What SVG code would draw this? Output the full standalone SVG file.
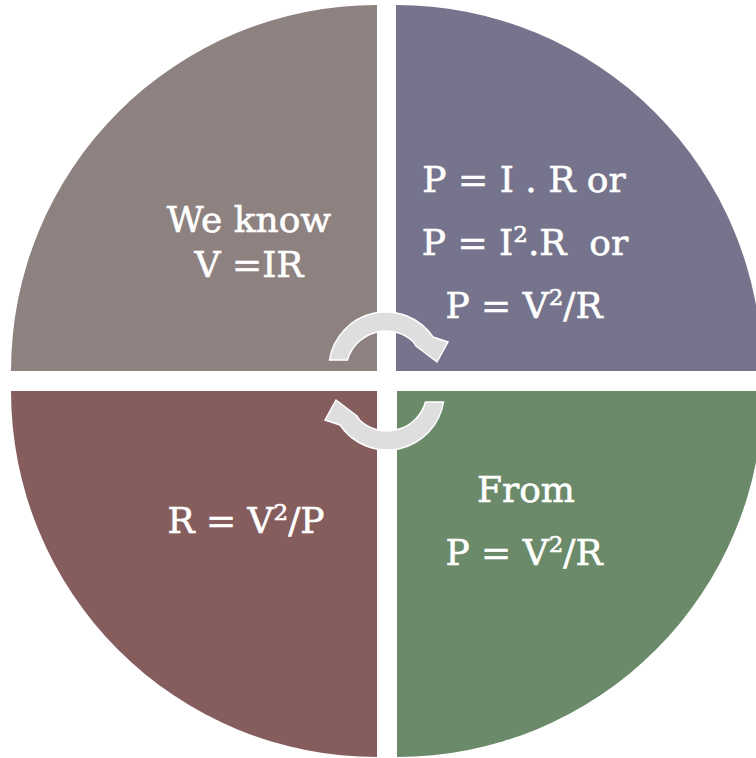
<svg xmlns="http://www.w3.org/2000/svg" width="756" height="758" viewBox="0 0 756 758">
<defs>
<style>
.t{font-family:"DejaVu Serif","Liberation Serif",serif;font-size:36px;fill:#ffffff;stroke:#ffffff;stroke-width:0.6;text-anchor:middle}
.s{font-size:23px}
.arrow{fill:#dedede;stroke:#ffffff;stroke-width:1.5;stroke-linejoin:miter}
</style>
<path id="arr" d="M329.5,360 A57,57 0 0 1 433,337 L448,342 L437,362 L416,346 L413.5,342 A40,40 0 0 0 347.5,360 Z"/>
</defs>
<rect width="756" height="758" fill="#ffffff"/>
<g id="q-top-left">
<path d="M377,371 L11,371 A366,366 0 0 1 377,5 Z" fill="#8e8280"/>
<text class="t" x="249" y="232">We know</text>
<text class="t" x="249" y="277">V =IR</text>
</g>
<g id="q-top-right">
<path d="M396,371 L396,5 A366,366 0 0 1 762,371 Z" fill="#75748c"/>
<text class="t" x="524" y="192">P = I . R or</text>
<text class="t" x="525" y="255">P = I<tspan class="s" dy="-13">2</tspan><tspan dy="13">.R&#160; or</tspan></text>
<text class="t" x="524" y="318">P = V<tspan class="s" dy="-13">2</tspan><tspan dy="13">/R</tspan></text>
</g>
<g id="q-bottom-left">
<path d="M377,391 L377,757 A366,366 0 0 1 11,391 Z" fill="#855d5d"/>
<text class="t" x="246" y="533">R = V<tspan class="s" dy="-13">2</tspan><tspan dy="13">/P</tspan></text>
</g>
<g id="q-bottom-right">
<path d="M397,391 L763,391 A366,366 0 0 1 397,757 Z" fill="#6a8a69"/>
<text class="t" x="526" y="502">From</text>
<text class="t" x="524" y="565">P = V<tspan class="s" dy="-13">2</tspan><tspan dy="13">/R</tspan></text>
</g>
<g id="connectors">
<use href="#arr" class="arrow"/>
<use href="#arr" class="arrow" transform="rotate(180 386.5 381)"/>
</g>
</svg>
